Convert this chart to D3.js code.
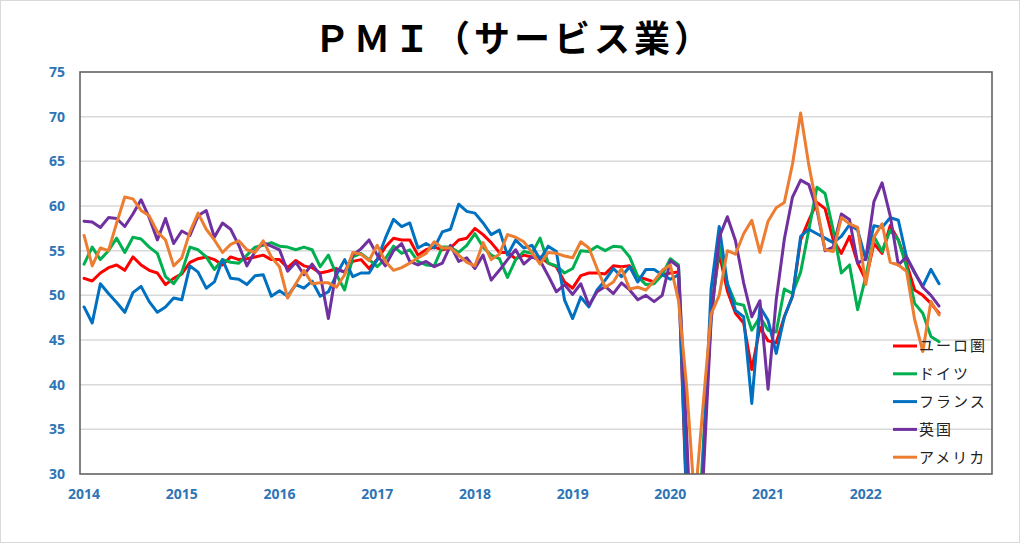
<!DOCTYPE html>
<html>
<head>
<meta charset="utf-8">
<script src="https://cdn.jsdelivr.net/npm/d3@7"></script>
<style>
html,body{margin:0;padding:0;background:#fff;}
svg{display:block;}
</style>
</head>
<body>
<svg id="chart" width="1024" height="544"></svg>
<script>
// Monthly services PMI, 2014-01 .. 2022-10
const startYear = 2014;
const yearLabels = ["2014","2015","2016","2017","2018","2019","2020","2021","2022"];
const yTicks = [30,35,40,45,50,55,60,65,70,75];
const seriesNames = ["ユーロ圏","ドイツ","フランス","英国","アメリカ"];

const euro = [
  51.9,51.6,52.5,53.1,53.4,52.8,54.3,53.4,52.8,52.5,51.2,51.9,
  52.4,53.7,54.1,54.3,54.0,53.4,54.3,54.0,54.1,54.3,54.5,54.0,
  54.0,53.1,53.9,53.3,53.1,52.5,52.7,53.0,52.6,53.8,54.0,53.0,
  54.0,55.4,56.4,56.2,56.2,54.5,55.1,55.4,55.1,55.3,56.2,56.4,
  57.5,56.8,55.9,54.8,54.8,54.1,54.5,54.3,54.3,53.6,53.2,51.5,
  50.8,52.2,52.5,52.5,52.4,53.3,53.2,53.3,52.1,51.8,51.5,52.3,
  52.5,52.6,26.4,12.0,30.5,48.3,54.7,50.5,48.0,46.9,41.7,46.4,
  44.9,44.7,47.6,49.9,56.2,58.4,60.4,59.7,56.2,54.7,56.6,53.6,
  51.7,55.8,54.7,57.8,56.2,53.6,50.6,50.0,49.1,48.0
];
const germany = [
  53.5,55.4,54.0,55.0,56.4,54.8,56.5,56.3,55.4,54.7,52.1,51.3,
  52.6,55.4,55.1,54.3,52.9,54.0,53.7,53.6,54.5,55.4,55.6,55.9,
  55.5,55.4,55.1,55.4,55.1,53.2,54.5,52.3,50.6,54.3,54.7,54.0,
  53.2,54.1,55.5,54.7,55.1,53.8,53.4,53.3,55.4,55.4,54.8,55.6,
  56.9,55.4,54.5,54.1,52.0,54.0,54.9,54.7,56.4,53.6,53.3,52.5,
  53.0,55.0,54.9,55.5,55.0,55.5,55.4,54.3,52.1,51.2,51.3,52.3,
  54.1,53.4,31.7,16.2,32.6,47.3,55.6,51.3,49.1,48.9,46.1,47.6,
  46.1,45.9,50.7,50.2,52.6,57.3,62.1,61.4,57.3,52.5,53.4,48.4,
  52.1,56.6,54.9,57.3,56.2,53.2,49.1,48.0,45.4,44.8
];
const france = [
  48.7,46.9,51.3,50.2,49.2,48.1,50.3,51.0,49.3,48.1,48.7,49.7,
  49.5,53.3,52.6,50.8,51.5,54.0,51.9,51.8,51.2,52.2,52.3,49.9,
  50.5,49.9,51.2,50.8,51.6,49.9,50.4,52.3,54.0,52.1,52.5,52.5,
  54.0,56.4,58.5,57.7,58.1,55.3,55.8,55.3,57.1,57.4,60.2,59.4,
  59.2,58.1,56.8,57.3,54.5,56.2,55.3,55.6,54.0,55.5,54.9,49.5,
  47.4,49.8,48.7,50.6,51.7,53.0,52.1,53.2,51.5,52.9,52.9,52.3,
  51.8,52.3,27.4,10.2,31.1,50.7,57.7,51.3,48.3,47.6,37.9,48.7,
  47.2,43.5,47.6,49.9,56.6,57.4,56.9,56.4,55.9,56.6,57.9,57.3,
  54.0,57.8,57.6,58.7,58.4,54.3,52.5,51.0,52.9,51.3
];
const uk = [
  58.3,58.2,57.6,58.7,58.6,57.7,59.1,60.7,58.7,56.2,58.6,55.8,
  57.2,56.7,58.9,59.5,56.5,58.1,57.4,55.6,53.3,54.9,55.9,55.5,
  55.1,52.7,53.7,52.3,53.5,52.3,47.4,52.9,52.6,54.5,55.2,56.2,
  54.5,53.3,55.0,55.8,53.8,53.4,53.8,53.2,53.6,55.6,53.8,54.2,
  53.0,54.5,51.7,52.8,54.0,55.1,53.5,54.3,53.9,52.2,50.4,51.2,
  50.1,51.3,48.9,50.4,51.0,50.2,51.4,50.6,49.5,50.0,49.3,50.0,
  53.9,53.2,34.5,13.4,29.0,47.1,56.5,58.8,56.1,51.4,47.6,49.4,
  39.5,49.5,56.3,61.0,62.9,62.4,59.6,55.0,55.4,59.1,58.5,53.6,
  54.1,60.5,62.6,58.9,53.4,54.3,52.6,50.9,50.0,48.8
];
const usa = [
  56.7,53.3,55.3,55.0,58.1,61.0,60.8,59.5,58.9,57.1,56.2,53.3,
  54.2,57.1,59.2,57.4,56.2,54.8,55.7,56.1,55.1,54.8,56.1,54.3,
  53.2,49.7,51.3,52.8,51.3,51.4,51.4,50.9,52.3,54.8,54.6,53.9,
  55.6,53.8,52.8,53.1,53.6,54.2,54.7,56.0,55.3,55.3,54.5,53.7,
  53.3,55.9,54.0,54.6,56.8,56.5,56.0,54.8,53.5,54.8,54.7,54.4,
  54.2,56.0,55.3,53.0,50.9,51.5,53.0,50.7,50.9,50.6,51.6,52.8,
  53.4,49.4,39.8,26.7,37.5,47.9,50.0,55.0,54.6,56.9,58.4,54.8,
  58.3,59.8,60.4,64.7,70.4,64.6,59.9,55.1,54.9,58.7,58.0,57.6,
  51.2,56.5,58.0,53.7,53.4,52.7,47.3,43.7,49.3,47.8
];
const seriesColors = ["#FF0000","#00B050","#0070C0","#7030A0","#ED7D31"];

const seriesValues = [euro, germany, france, uk, usa];
const nCategories = 112; // 2014-01 .. 2023-04 category slots

const svg = d3.select("#chart");
const W = 1024, H = 544;
const margin = {left: 80, right: 1024-992, top: 72, bottom: 544-474};
const iw = W - margin.left - margin.right;
const ih = H - margin.top - margin.bottom;

// outer chart border
svg.append("rect").attr("x",0.5).attr("y",0.5).attr("width",1019).attr("height",542)
  .attr("fill","#fff").attr("stroke","#d9d9d9").attr("stroke-width",1);

// title
svg.append("text").attr("x", 514).attr("y", 52).attr("text-anchor","middle")
  .style("font-family","'Noto Sans CJK JP','Noto Sans',sans-serif")
  .style("font-weight","bold").style("font-size","36px").style("fill","#000")
  .style("letter-spacing","4px")
  .text("ＰＭＩ（サービス業）");

const g = svg.append("g").attr("transform",`translate(${margin.left},${margin.top})`);

const x = d3.scaleBand().domain(d3.range(nCategories)).range([0, iw]).paddingInner(0).paddingOuter(0);
const xc = i => x(i) + x.bandwidth()/2;
const y = d3.scaleLinear().domain([30,75]).range([ih, 0]);

// grid
g.append("g").selectAll("line").data(yTicks.filter(t=>t>30 && t<75)).join("line")
  .attr("x1",0).attr("x2",iw).attr("y1",d=>y(d)).attr("y2",d=>y(d))
  .attr("stroke","#d9d9d9").attr("stroke-width",1.5);

// y axis labels
const yAxis = d3.axisLeft(y).tickValues(yTicks).tickSize(0).tickPadding(15);
const ya = g.append("g").call(yAxis);
ya.select(".domain").remove();
ya.selectAll("text").style("font-family","'Open Sans','Liberation Sans',sans-serif")
  .style("font-weight","bold").style("font-size","14px").style("fill","#2E75B6");

// x axis labels
const xTickIdx = yearLabels.map((d,k)=>k*12);
const xAxis = d3.axisBottom(x).tickValues(xTickIdx).tickSize(0).tickPadding(15)
  .tickFormat(i => yearLabels[i/12]);
const xa = g.append("g").attr("transform",`translate(0,${ih})`).call(xAxis);
xa.select(".domain").remove();
xa.selectAll("text").style("font-family","'Open Sans','Liberation Sans',sans-serif")
  .style("font-weight","bold").style("font-size","14px").style("fill","#2E75B6");

// clip
svg.append("defs").append("clipPath").attr("id","plotclip")
  .append("rect").attr("x",0).attr("y",0).attr("width",iw).attr("height",ih);

const line = d3.line().x((d,i)=>xc(i)).y(d=>y(d));
const lines = g.append("g").attr("clip-path","url(#plotclip)");
seriesValues.forEach((vals,k)=>{
  lines.append("path").datum(vals).attr("d",line)
    .attr("fill","none").attr("stroke",seriesColors[k]).attr("stroke-width",3)
    .attr("stroke-linejoin","round").attr("stroke-linecap","round");
});

// plot border
g.append("rect").attr("x",0).attr("y",0).attr("width",iw).attr("height",ih)
  .attr("fill","none").attr("stroke","#595959").attr("stroke-width",1.5);

// legend
const lg = svg.append("g").attr("transform","translate(893,346)");
seriesNames.forEach((nm,k)=>{
  const row = lg.append("g").attr("transform",`translate(0,${k*27.8})`);
  row.append("line").attr("x1",0).attr("x2",24).attr("y1",0).attr("y2",0)
    .attr("stroke",seriesColors[k]).attr("stroke-width",3);
  row.append("text").attr("x",26).attr("y",0).attr("dy","0.36em")
    .style("font-family","'Noto Sans CJK JP',sans-serif").style("font-size","15px")
    .style("letter-spacing","2px").style("fill","#222").text(nm);
});
</script>
</body>
</html>
